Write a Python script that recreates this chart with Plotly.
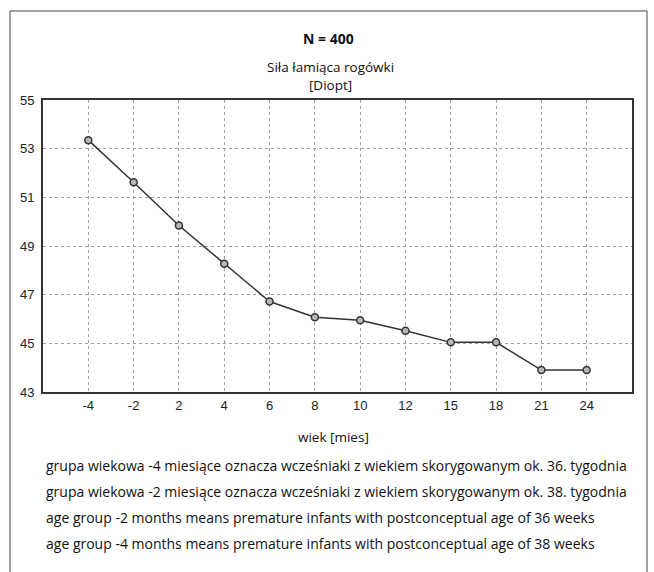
import plotly.graph_objects as go

age_groups = ["-4", "-2", "2", "4", "6", "8", "10", "12", "15", "18", "21", "24"]
power_diopt = [53.35, 51.62, 49.84, 48.27, 46.72, 46.07, 45.95, 45.52, 45.04, 45.04, 43.9, 43.9]
y_ticks = [43, 45, 47, 49, 51, 53, 55]

title_main = "N = 400"
title_sub1 = "Siła łamiąca rogówki"
title_sub2 = "[Diopt]"
x_title = "wiek [mies]"
notes = [
    "grupa wiekowa -4 miesiące oznacza wcześniaki z wiekiem skorygowanym ok. 36. tygodnia",
    "grupa wiekowa -2 miesiące oznacza wcześniaki z wiekiem skorygowanym ok. 38. tygodnia",
    "age group -2 months means premature infants with postconceptual age of 36 weeks",
    "age group -4 months means premature infants with postconceptual age of 38 weeks",
]

W, H = 654, 572
L, R, T, B = 43, 632, 100, 392
pw, ph = R - L, B - T


def px(x):
    return (x - L) / pw


def py(y):
    return (B - y) / ph


fig = go.Figure()
fig.add_trace(go.Scatter(
    x=list(range(len(age_groups))), y=power_diopt, mode="lines+markers",
    line=dict(color="#333333", width=1.5),
    marker=dict(symbol="circle", size=7, color="#b8b8b8",
                line=dict(color="#333333", width=1.5)),
    showlegend=False, hoverinfo="x+y",
))

txt_font = dict(family="Open Sans", size=14, color="#111111")
annotations = [
    dict(text="<b>" + title_main + "</b>", x=px(328), y=py(38), font=dict(family="Open Sans", size=14, color="#111111")),
    dict(text=title_sub1 + "<br>" + title_sub2, x=px(330), y=py(76), font=dict(family="Open Sans", size=13.5, color="#111111")),
    dict(text=x_title, x=px(333), y=py(437), font=dict(family="Open Sans", size=13.5, color="#111111")),
]
for i, n in enumerate(notes):
    annotations.append(dict(text=n, x=px(44), y=py(465 + 26 * i), xanchor="left", font=txt_font))
for a in annotations:
    a.update(xref="paper", yref="paper", showarrow=False, yanchor="middle")
    a.setdefault("xanchor", "center")

frame = dict(color="#444444", width=1)
shapes = [
    dict(type="line", xref="paper", yref="paper", x0=px(10), x1=px(647), y0=py(11), y1=py(11), line=frame),
    dict(type="line", xref="paper", yref="paper", x0=px(10), x1=px(10), y0=py(11), y1=py(580), line=frame),
    dict(type="line", xref="paper", yref="paper", x0=px(647), x1=px(647), y0=py(11), y1=py(580), line=frame),
]

fig.update_layout(
    width=W, height=H,
    margin=dict(l=L, r=W - R, t=T, b=H - B, pad=0),
    paper_bgcolor="white", plot_bgcolor="white",
    annotations=annotations, shapes=shapes,
    xaxis=dict(
        range=[-1, len(age_groups)], tickmode="array",
        tickvals=list(range(len(age_groups))), ticktext=age_groups,
        showgrid=True, gridcolor="#a0a0a0", griddash="dot", gridwidth=1,
        showline=True, linecolor="#333333", linewidth=2, mirror=True,
        ticks="", zeroline=False,
        tickfont=dict(family="Liberation Sans", size=13, color="#222222"),
    ),
    yaxis=dict(
        range=[43, 55], tickvals=y_ticks,
        showgrid=True, gridcolor="#a0a0a0", griddash="dot", gridwidth=1,
        showline=True, linecolor="#333333", linewidth=2, mirror=True,
        ticks="", zeroline=False, ticklabelstandoff=4,
        tickfont=dict(family="Liberation Sans", size=13, color="#222222"),
    ),
)

fig.write_html("out.html")
